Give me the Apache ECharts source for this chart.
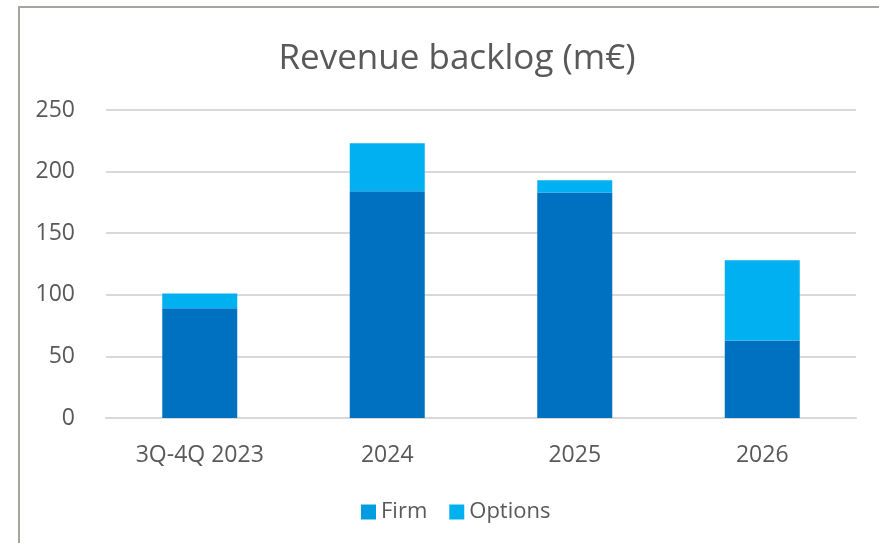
<!DOCTYPE html>
<html>
<head>
<meta charset="utf-8">
<script src="https://cdn.jsdelivr.net/npm/echarts@6/dist/echarts.min.js"></script>
<style>
  html, body { margin: 0; padding: 0; background: #fff; overflow: hidden; }
  #chart { position: absolute; left: 0; top: 0; width: 879px; height: 543px; }
  #frame { position: absolute; left: 18px; top: 6px; width: 900px; height: 600px;
           border: 2px solid #a6a69f; pointer-events: none; }
</style>
</head>
<body>
<div id="chart"></div>
<div id="frame"></div>
<script>
var categories = ['3Q-4Q 2023', '2024', '2025', '2026'];
var firm = [89, 184, 183, 63];
var options = [12, 39, 10, 65];
var yTicks = [0, 50, 100, 150, 200, 250];

document.addEventListener('DOMContentLoaded', function () {
  var font = '"Open Sans", "Noto Sans", sans-serif';
  var chart = echarts.init(document.getElementById('chart'));
  var option = {
    animation: false,
    textStyle: { fontFamily: font },
    title: {
      text: 'Revenue backlog (m€)',
      left: 452, textAlign: 'center', top: 37,
      textStyle: { fontFamily: font, fontSize: 35, fontWeight: 'normal', color: '#595959' }
    },
    legend: {
      data: [
        { name: 'Firm', itemStyle: { color: '#009ee0' } },
        { name: 'Options', itemStyle: { color: '#00b0f0' } }
      ],
      left: 361, top: 501, padding: 0,
      icon: 'rect', itemWidth: 15, itemHeight: 15, itemGap: 22,
      textStyle: { fontFamily: font, fontSize: 22, color: '#595959' }
    },
    grid: { left: 106, right: 23, top: 110, bottom: 125, containLabel: false },
    xAxis: {
      type: 'category',
      data: categories,
      axisLine: { show: true, lineStyle: { color: '#d9d9d9', width: 2 } },
      axisTick: { show: false },
      axisLabel: { fontFamily: font, fontSize: 23, color: '#595959', margin: 26 }
    },
    yAxis: {
      type: 'value',
      min: yTicks[0], max: yTicks[yTicks.length - 1], interval: 50,
      axisLine: { show: false },
      axisTick: { show: false },
      splitLine: { lineStyle: { color: '#d9d9d9', width: 2 } },
      axisLabel: { fontFamily: font, fontSize: 23, color: '#595959', margin: 31 }
    },
    series: [
      { name: 'Firm', type: 'bar', stack: 'total', data: firm, barWidth: '40%',
        itemStyle: { color: '#0070c0' } },
      { name: 'Options', type: 'bar', stack: 'total', data: options, barWidth: '40%',
        itemStyle: { color: '#00b0f0' } }
    ]
  };
  chart.setOption(option);
});
</script>
</body>
</html>
